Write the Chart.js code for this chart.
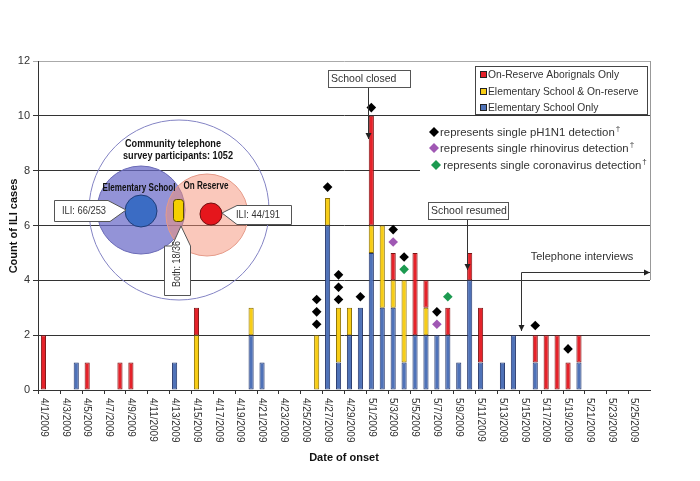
<!DOCTYPE html>
<html><head><meta charset="utf-8">
<script src="https://cdn.jsdelivr.net/npm/chart.js@4"></script>
<style>html,body{margin:0;padding:0;background:#fff}#wrap{width:700px;height:481px}</style>
</head><body><div id="wrap"><canvas id="c" width="700" height="481"></canvas></div>
<script>
const dateLabels = [
 '4/1/2009','4/2/2009','4/3/2009','4/4/2009','4/5/2009','4/6/2009','4/7/2009','4/8/2009','4/9/2009','4/10/2009',
 '4/11/2009','4/12/2009','4/13/2009','4/14/2009','4/15/2009','4/16/2009','4/17/2009','4/18/2009','4/19/2009','4/20/2009',
 '4/21/2009','4/22/2009','4/23/2009','4/24/2009','4/25/2009','4/26/2009','4/27/2009','4/28/2009','4/29/2009','4/30/2009',
 '5/1/2009','5/2/2009','5/3/2009','5/4/2009','5/5/2009','5/6/2009','5/7/2009','5/8/2009','5/9/2009','5/10/2009',
 '5/11/2009','5/12/2009','5/13/2009','5/14/2009','5/15/2009','5/16/2009','5/17/2009','5/18/2009','5/19/2009','5/20/2009',
 '5/21/2009','5/22/2009','5/23/2009','5/24/2009','5/25/2009','5/26/2009'];
const esOnly = [0,0,0,1,0,0,0,0,0,0, 0,0,1,0,0,0,0,0,0,2, 1,0,0,0,0,0,6,1,2,3, 5,3,3,1,2,2,2,2,1,4, 1,0,1,2,0,1,0,0,0,1, 0,0,0,0,0,0];
const bothGroups = [0,0,0,0,0,0,0,0,0,0, 0,0,0,0,2,0,0,0,0,1, 0,0,0,0,0,2,1,2,1,0, 1,3,1,3,0,1,0,0,0,0, 0,0,0,0,0,0,0,0,0,0, 0,0,0,0,0,0];
const reserveOnly = [2,0,0,0,1,0,0,1,1,0, 0,0,0,0,1,0,0,0,0,0, 0,0,0,0,0,0,0,0,0,0, 4,0,1,0,3,1,0,1,0,1, 2,0,0,0,0,1,2,2,1,1, 0,0,0,0,0,0];
const pH1N1Dates = ['4/26/2009','4/26/2009','4/26/2009','4/27/2009','4/28/2009','4/28/2009','4/28/2009','4/30/2009','5/1/2009','5/3/2009','5/4/2009','5/7/2009','5/16/2009','5/19/2009'];
const pH1N1Heights = [2.4,2.85,3.3,7.4,3.3,3.75,4.2,3.4,10.3,5.85,4.85,2.85,2.35,1.5];
const rhinoDates = ['5/3/2009','5/7/2009'];
const rhinoHeights = [5.4,2.4];
const coronaDates = ['5/4/2009','5/8/2009'];
const coronaHeights = [4.4,3.4];
const yTicks = [0,2,4,6,8,10,12];
const seriesNames = ['Elementary School Only','Elementary School & On-reserve','On-Reserve Aborignals Only'];
const noteTexts = ['represents single pH1N1 detection','represents single rhinovirus detection',' represents single coronavirus detection'];

const FONT = '"Liberation Sans", Arial, sans-serif';
const TXT = '#333';

function arrow(ctx,x1,y1,x2,y2){
  ctx.beginPath();ctx.moveTo(x1,y1);ctx.lineTo(x2,y2);ctx.stroke();
  const a=Math.atan2(y2-y1,x2-x1),s=6;
  ctx.beginPath();ctx.moveTo(x2,y2);
  ctx.lineTo(x2-s*Math.cos(a)+3*Math.sin(a),y2-s*Math.sin(a)-3*Math.cos(a));
  ctx.lineTo(x2-s*Math.cos(a)-3*Math.sin(a),y2-s*Math.sin(a)+3*Math.cos(a));
  ctx.closePath();ctx.fill();
}
function poly(ctx,pts,fill,stroke){
  ctx.beginPath();ctx.moveTo(pts[0][0],pts[0][1]);
  for(let i=1;i<pts.length;i++)ctx.lineTo(pts[i][0],pts[i][1]);
  ctx.closePath();ctx.fillStyle=fill;ctx.fill();ctx.strokeStyle=stroke;ctx.lineWidth=1;ctx.stroke();
}
function circle(ctx,x,y,r,fill,stroke){
  ctx.beginPath();ctx.arc(x,y,r,0,Math.PI*2);
  if(fill){ctx.fillStyle=fill;ctx.fill();}
  if(stroke){ctx.strokeStyle=stroke;ctx.lineWidth=1;ctx.stroke();}
}
function diamond(ctx,x,y,r,c){
  ctx.beginPath();ctx.moveTo(x,y-r);ctx.lineTo(x+r,y);ctx.lineTo(x,y+r);ctx.lineTo(x-r,y);ctx.closePath();
  ctx.fillStyle=c;ctx.fill();
}

const overlay = {
  id:'overlay',
  beforeDatasetsDraw(chart){
    const ctx=chart.ctx;ctx.save();
    circle(ctx,179,210,90,null,'#8484c4');
    circle(ctx,141,210,44,'rgba(105,105,200,0.72)','#6a6ab6');
    circle(ctx,207,215,41,'rgba(245,145,120,0.5)','#e59a88');
    circle(ctx,141,211,16,'#3b6cc4','#1e3c78');
    circle(ctx,211,214,11,'#e5161c','#701010');
    ctx.beginPath();ctx.roundRect(173.5,199.5,10,22,3);ctx.fillStyle='#f4d000';ctx.fill();ctx.strokeStyle='#5a4a00';ctx.stroke();
    ctx.fillStyle='#111';ctx.textAlign='center';ctx.textBaseline='middle';
    ctx.font='bold 11px '+FONT;
    ctx.fillText('Community telephone',173,144,96);
    ctx.fillText('survey participants: 1052',178,156,110);
    ctx.font='bold 10px '+FONT;
    ctx.fillText('Elementary School',139,188,73);
    ctx.fillText('On Reserve',206,186,45);
    poly(ctx,[[54.5,200.5],[108,200.5],[126,210],[110,221.5],[54.5,221.5]],'#fff','#555');
    poly(ctx,[[291.5,205.5],[237,205.5],[222,213],[237,224.5],[291.5,224.5]],'#fff','#555');
    poly(ctx,[[164.5,295.5],[164.5,246],[172,246],[181,226],[190.5,246],[190.5,295.5]],'#fff','#555');
    ctx.fillStyle=TXT;ctx.font='10px '+FONT;
    ctx.fillText('ILI: 66/253',84,211,44);
    ctx.fillText('ILI: 44/191',258,215,44);
    ctx.save();ctx.translate(177.5,264);ctx.rotate(-Math.PI/2);ctx.fillText('Both: 18/36',0,0,46);ctx.restore();
    ctx.restore();
  },
  afterDatasetsDraw(chart){
    const ctx=chart.ctx;ctx.save();
    ctx.fillStyle='#fff';ctx.fillRect(420,119,230,58);
    ctx.textBaseline='middle';ctx.textAlign='left';
    const ncol=['#000','#a058b4','#1c9a50'];
    const ny=[133,149,166], nx=[434,434,436];
    for(let i=0;i<3;i++){
      diamond(ctx,nx[i],ny[i]-1,5,ncol[i]);
      ctx.fillStyle=TXT;ctx.font='11.4px '+FONT;
      ctx.fillText(noteTexts[i],440,ny[i]);
      const w=ctx.measureText(noteTexts[i]).width;
      ctx.font='8px '+FONT;ctx.fillText('\u2020',441+w,ny[i]-4);
    }
    ctx.fillStyle='#fff';ctx.fillRect(475.5,66.5,172,48);
    ctx.strokeStyle='#444';ctx.lineWidth=1;ctx.strokeRect(475.5,66.5,172,48);
    const ds=chart.data.datasets;
    const order=[2,1,0], ly=[75,92,108];
    ctx.font='10.3px '+FONT;
    order.forEach((k,i)=>{
      ctx.fillStyle=ds[k].backgroundColor;ctx.fillRect(480.5,ly[i]-3.5,6,6);
      ctx.strokeStyle='#222';ctx.strokeRect(480.5,ly[i]-3.5,6,6);
      ctx.fillStyle=TXT;ctx.fillText(ds[k].label,488,ly[i]);
    });
    ctx.strokeStyle='#999';ctx.beginPath();ctx.moveTo(650.5,61);ctx.lineTo(650.5,280);ctx.stroke();
    ctx.fillStyle='#fff';ctx.fillRect(328.5,70.5,82,17);
    ctx.strokeStyle='#555';ctx.strokeRect(328.5,70.5,82,17);
    ctx.fillStyle=TXT;ctx.font='10.5px '+FONT;ctx.fillText('School closed',331,79.5);
    ctx.strokeStyle='#333';ctx.fillStyle='#222';
    arrow(ctx,368.5,88,368.5,139);
    ctx.fillStyle='#fff';ctx.fillRect(428.5,202.5,80,17);
    ctx.strokeStyle='#555';ctx.strokeRect(428.5,202.5,80,17);
    ctx.fillStyle=TXT;ctx.font='10.5px '+FONT;ctx.fillText('School resumed',431,211.5);
    ctx.strokeStyle='#333';ctx.fillStyle='#222';
    arrow(ctx,467.5,220,467.5,270);
    ctx.fillStyle=TXT;ctx.font='11px '+FONT;ctx.textAlign='center';
    ctx.fillText('Telephone interviews',582,257);
    ctx.strokeStyle='#333';ctx.fillStyle='#222';
    arrow(ctx,521.5,272.5,650,272.5);
    arrow(ctx,521.5,272.5,521.5,331);
    ctx.restore();
  },
  afterDraw(chart){
    const ctx=chart.ctx, xs=chart.scales.x, bottom=chart.chartArea.bottom;
    const cw=xs.width/dateLabels.length;
    ctx.save();ctx.strokeStyle='#333';ctx.lineWidth=1;ctx.fillStyle=TXT;
    ctx.font='10px '+FONT;
    for(let i=0;i<dateLabels.length;i+=2){
      const cx=xs.getPixelForValue(i);
      const left=Math.round(cx-cw/2)+0.5;
      ctx.beginPath();ctx.moveTo(left,bottom);ctx.lineTo(left,bottom+4);ctx.stroke();
      ctx.save();ctx.translate(cx,bottom+8);ctx.rotate(Math.PI/2);
      ctx.textAlign='left';ctx.textBaseline='middle';ctx.fillText(dateLabels[i],0,0);ctx.restore();
    }
    ctx.fillStyle='#111';ctx.font='bold 11px '+FONT;ctx.textAlign='center';ctx.textBaseline='middle';
    ctx.fillText('Date of onset',(xs.left+xs.right)/2,458);
    ctx.save();ctx.translate(14,226);ctx.rotate(-Math.PI/2);ctx.fillText('Count of ILI cases',0,0);ctx.restore();
    ctx.restore();
  }
};

const barCommon={categoryPercentage:1,barPercentage:0.47,borderWidth:1,borderSkipped:false,stack:'ili',order:5};
new Chart(document.getElementById('c'),{
  type:'bar',
  data:{
    labels:dateLabels,
    datasets:[
      Object.assign({label:seriesNames[0],data:esOnly.map(v=>v||null),backgroundColor:'#4f72b8',borderColor:'#27386c'},barCommon),
      Object.assign({label:seriesNames[1],data:bothGroups.map(v=>v||null),backgroundColor:'#f7cd16',borderColor:'#8a6e00'},barCommon),
      Object.assign({label:seriesNames[2],data:reserveOnly.map(v=>v||null),backgroundColor:'#e5222a',borderColor:'#7d1414'},barCommon),
      {type:'line',label:'pH1N1',yAxisID:'y2',showLine:false,pointStyle:'rectRot',pointRadius:4.8,backgroundColor:'#000',borderColor:'#000',borderWidth:0,order:1,
       data:pH1N1Dates.map((d,i)=>({x:d,y:pH1N1Heights[i]}))},
      {type:'line',label:'rhinovirus',yAxisID:'y2',showLine:false,pointStyle:'rectRot',pointRadius:4.8,backgroundColor:'#a058b4',borderColor:'#a058b4',borderWidth:0,order:1,
       data:rhinoDates.map((d,i)=>({x:d,y:rhinoHeights[i]}))},
      {type:'line',label:'coronavirus',yAxisID:'y2',showLine:false,pointStyle:'rectRot',pointRadius:4.8,backgroundColor:'#1c9a50',borderColor:'#1c9a50',borderWidth:0,order:1,
       data:coronaDates.map((d,i)=>({x:d,y:coronaHeights[i]}))}
    ]
  },
  options:{
    responsive:false,animation:false,devicePixelRatio:1,
    layout:{padding:{top:61,right:50,left:0,bottom:0}},
    plugins:{legend:{display:false},tooltip:{enabled:false}},
    events:[],
    scales:{
      x:{type:'category',stacked:true,offset:true,grid:{display:false},ticks:{display:false},
         border:{color:'#333',width:1},afterFit(s){s.height=91;}},
      y:{stacked:true,min:0,max:12,afterBuildTicks(s){s.ticks=yTicks.map(v=>({value:v}));},
         ticks:{color:TXT,font:{family:FONT,size:11},padding:3},
         grid:{color:c=>c.tick&&c.tick.value===12?'#aaaaaa':'#333',tickLength:5,lineWidth:1},
         border:{color:'#333',width:1},afterFit(s){s.width=38;}},
      y2:{type:'linear',display:false,min:0,max:12,stacked:false}
    }
  },
  plugins:[overlay]
});
</script></body></html>
